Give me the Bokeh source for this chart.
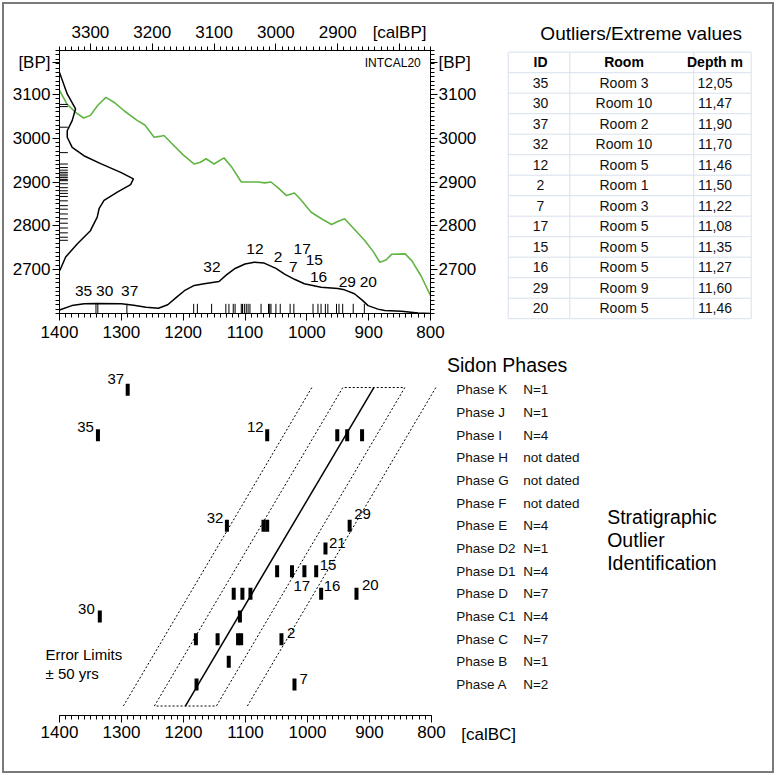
from bokeh.plotting import figure
from bokeh.models import Range1d, LinearAxis, FixedTicker, ColumnDataSource
from bokeh.layouts import column, row
from bokeh.embed import file_html
from bokeh.resources import INLINE
from bokeh.core.properties import value

FONT = "Liberation Sans"

# ---------------- data ----------------
calbc_ticks = [1400, 1300, 1200, 1100, 1000, 900, 800]
calbp_ticks = [3300, 3200, 3100, 3000, 2900, 2800]
bp_ticks = [2700, 2800, 2900, 3000, 3100]
bp_unit_tick = 3172.6          # where the "[BP]" unit label sits on the BP axes

# IntCal20 calibration curve (calBC, BP)
intcal_bc = [1400, 1388, 1374, 1361, 1350, 1338, 1325, 1312, 1295, 1274, 1262, 1247, 1238, 1231,
             1220, 1200, 1182, 1172, 1163, 1150, 1134, 1122, 1106, 1090, 1079, 1068, 1058, 1045,
             1033, 1020, 1010, 993, 975, 960, 950, 939, 925, 906, 892, 882, 872, 863, 841, 830,
             815, 800]
intcal_bp = [3109, 3078, 3059, 3046, 3052, 3075, 3093, 3082, 3062, 3040, 3030, 3002, 3004, 3006,
             2990, 2962, 2941, 2945, 2953, 2941, 2955, 2935, 2900, 2900, 2900, 2898, 2900, 2885,
             2869, 2875, 2860, 2831, 2815, 2803, 2810, 2816, 2795, 2766, 2740, 2717, 2722, 2735,
             2736, 2720, 2685, 2641]

# summed calibrated probability (calBC, BP-scale height)
sum_bc = [1400, 1380, 1360, 1340, 1300, 1280, 1260, 1240, 1225, 1210, 1198, 1182, 1166, 1142,
          1130, 1117, 1100, 1085, 1069, 1050, 1036, 1020, 1004, 977, 950, 939, 923, 910, 901,
          885, 874, 847, 820, 800]
sum_bp = [2608, 2618, 2622, 2623, 2622, 2619, 2614, 2612, 2620, 2638, 2652, 2664, 2668, 2673,
          2688, 2702, 2713, 2717, 2715, 2703, 2690, 2678, 2668, 2660, 2657, 2654, 2645, 2630,
          2618, 2610, 2607, 2605, 2601, 2600]

# radiocarbon (BP) density drawn along the BP axis
bpdens_bc = [1400, 1387.5, 1374, 1379.5, 1387.5, 1387.5, 1379.5, 1360.6, 1333.5, 1301, 1280.5,
             1285, 1306.5, 1328, 1336, 1339, 1350, 1371, 1390, 1399.5]
bpdens_bp = [3150, 3101, 3067, 3040, 3017, 3002, 2979, 2960, 2942, 2922, 2907, 2894, 2877, 2858,
             2839, 2820, 2789, 2759, 2729, 2698]

# individual dates
rug_bc = [1341, 1338, 1291, 1183, 1177, 1154, 1131, 1126, 1119, 1116, 1106, 1104, 1101, 1098,
          1095, 1092, 1074, 1062, 1060, 1058, 1050, 1043, 1027, 1021, 990, 982, 977, 970, 966,
          952, 948, 942, 925, 907]
rug_bp = [3077, 3072, 3025, 2967, 2941, 2933, 2927, 2922, 2918, 2914, 2910, 2906, 2903, 2896,
          2887, 2880, 2874, 2867, 2857, 2846, 2838, 2827, 2816, 2806, 2795, 2784, 2774, 2767]

# outlier labels in upper chart
top_ids = ["35", "30", "37", "32", "12", "2", "17", "7", "15", "16", "29", "20"]
top_ids_bc = [1361, 1327, 1286.5, 1153.5, 1084, 1046.5, 1007.6, 1022, 988, 981, 934.6, 900.6]
top_ids_bp = [2652, 2652, 2652, 2705, 2748, 2730, 2748, 2707, 2723, 2684, 2673, 2673]

# outlier table
table_header = ["ID", "Room", "Depth m"]
table_id = ["35", "30", "37", "32", "12", "2", "7", "17", "15", "16", "29", "20"]
table_room = ["Room 3", "Room 10", "Room 2", "Room 10", "Room 5", "Room 1", "Room 3", "Room 5",
              "Room 5", "Room 5", "Room 9", "Room 5"]
table_depth = [12.05, 11.47, 11.90, 11.70, 11.46, 11.50, 11.22, 11.08, 11.35, 11.27, 11.60, 11.46]

# Sidon phases (bottom -> top)
phases = ["Phase A", "Phase B", "Phase C", "Phase C1", "Phase D", "Phase D1", "Phase D2",
          "Phase E", "Phase F", "Phase G", "Phase H", "Phase I", "Phase J", "Phase K"]
phase_n = ["N=2", "N=1", "N=7", "N=4", "N=7", "N=4", "N=1", "N=4", "not dated", "not dated",
           "not dated", "N=4", "N=1", "N=1"]

marker_phase = ["Phase K",
                "Phase I", "Phase I", "Phase I", "Phase I", "Phase I",
                "Phase E", "Phase E", "Phase E", "Phase E",
                "Phase D2",
                "Phase D1", "Phase D1", "Phase D1", "Phase D1",
                "Phase D", "Phase D", "Phase D", "Phase D", "Phase D",
                "Phase C1", "Phase C1",
                "Phase C", "Phase C", "Phase C", "Phase C", "Phase C",
                "Phase B",
                "Phase A", "Phase A"]
marker_bc = [1290,
             1338, 1065, 952, 936, 912,
             1130, 1071, 1065, 932,
             971,
             1049, 1025, 1005, 986,
             1119, 1105, 1092, 978, 921,
             1335, 1109,
             1180, 1145, 1112, 1107, 1042,
             1127,
             1179, 1021]
marker_id = ["37",
             "35", "12", "", "", "",
             "32", "", "", "29",
             "21",
             "", "17", "", "15",
             "", "", "", "16", "20",
             "30", "",
             "", "", "", "", "2",
             "",
             "", "7"]

# stratigraphic model line (calBC at oldest / youngest phase) and error limits
model_bc = [1197, 893]
error_inner = 50
error_outer = 100

# ---------------- layout helpers ----------------
X_PER_PX = 600 / 372.0       # bottom chart: calBC per pixel
ROW_PX = 22.67               # bottom chart: pixels per phase row


def bc_at(px):
    return 1400 - (px - 59) * X_PER_PX


def row_at(py):
    return (684 - py) / ROW_PX


def style_axis(ax, size="17px", standoff=4):
    ax.major_tick_out = 7
    ax.major_tick_in = 0
    ax.minor_tick_out = 4
    ax.minor_tick_in = 0
    ax.axis_line_color = "black"
    ax.major_tick_line_color = "black"
    ax.minor_tick_line_color = "black"
    ax.major_label_text_font = FONT
    ax.major_label_text_font_size = size
    ax.major_label_text_color = "black"
    ax.major_label_standoff = standoff


def bare(fig):
    fig.grid.visible = False
    fig.outline_line_color = None


COMMON = dict(output_backend="svg", toolbar_location=None, x_axis_location=None,
              y_axis_location=None, frame_align=False)

# ---------------- top chart ----------------
top = figure(width=476, height=344, x_range=Range1d(1400, 800), y_range=Range1d(2600, 3200),
             min_border_left=55, min_border_right=50, min_border_top=46, min_border_bottom=35,
             **COMMON)
top.extra_x_ranges = {"calbp": Range1d(3350, 2750)}
top.grid.visible = False
top.outline_line_color = "black"
top.outline_line_width = 1

ax_b = LinearAxis(ticker=FixedTicker(ticks=calbc_ticks, minor_ticks=list(range(800, 1401, 10))))
style_axis(ax_b, standoff=5)
top.add_layout(ax_b, "below")

ax_t = LinearAxis(x_range_name="calbp",
                  ticker=FixedTicker(ticks=calbp_ticks, minor_ticks=list(range(2750, 3351, 10))))
style_axis(ax_t, standoff=2)
ax_t.major_label_overrides = {2800: "[calBP]"}
top.add_layout(ax_t, "above")

for side_name, so in (("left", 2), ("right", 1)):
    ax = LinearAxis(ticker=FixedTicker(ticks=bp_ticks + [bp_unit_tick],
                                       minor_ticks=list(range(2600, 3201, 10))))
    style_axis(ax, standoff=so)
    ax.major_label_overrides = {bp_unit_tick: "[BP]"}
    top.add_layout(ax, side_name)

top.line(intcal_bc, intcal_bp, line_color="#62b544", line_width=1.6)
top.line(sum_bc, sum_bp, line_color="black", line_width=1.5)
top.line(bpdens_bc, bpdens_bp, line_color="black", line_width=1.5)
top.segment(x0=rug_bc, y0=2600, x1=rug_bc, y1=2622, line_color="black", line_width=1)
top.segment(x0=1400, y0=rug_bp, x1=1386.5, y1=rug_bp, line_color="black", line_width=1)
top.text(x=top_ids_bc, y=top_ids_bp, text=top_ids, text_align="center", text_baseline="middle",
         text_font=value(FONT), text_font_size="15.5px", text_color="black")
top.text(x=[815.7], y=[3172.6], text=["INTCAL20"], text_align="right", text_baseline="middle",
         text_font=value(FONT), text_font_size="12px", text_color="black")

# ---------------- table ----------------
tab = figure(width=292, height=344, x_range=Range1d(480, 772), y_range=Range1d(348, 4),
             min_border_left=0, min_border_right=0, min_border_top=0, min_border_bottom=0,
             **COMMON)
bare(tab)

col_edges = [507.7, 569.3, 693.3, 750.7]
col_text_x = [540, 623.5, 714.5]
t_top = 51.7
row_h = 20.5
n_rows = len(table_id) + 1
h_lines_y = [t_top + row_h * k for k in range(n_rows + 1)]
tab.segment(x0=col_edges[0], x1=col_edges[-1], y0=h_lines_y, y1=h_lines_y,
            line_color="#d8e0ec", line_width=1)
tab.segment(x0=col_edges, x1=col_edges, y0=t_top, y1=h_lines_y[-1],
            line_color="#d8e0ec", line_width=1)
tab.text(x=[640.7], y=[33.3], text=["Outliers/Extreme values"], text_align="center",
         text_baseline="middle", text_font=value(FONT), text_font_size="19px", text_color="black")
tab.text(x=col_text_x, y=[t_top + row_h / 2] * 3, text=table_header, text_align="center",
         text_baseline="middle", text_font=value(FONT), text_font_size="14px",
         text_font_style="bold", text_color="black")
row_cy = [t_top + row_h * (i + 1) + row_h / 2 for i in range(len(table_id))]
depth_txt = [f"{d:.2f}".replace(".", ",") for d in table_depth]
for cx, vals in zip(col_text_x, [table_id, table_room, depth_txt]):
    tab.text(x=[cx] * len(vals), y=row_cy, text=vals, text_align="center",
             text_baseline="middle", text_font=value(FONT), text_font_size="14px",
             text_color="#111111")

# ---------------- bottom chart ----------------
SPLIT = 446
bot = figure(width=SPLIT - 4, height=423,
             x_range=Range1d(bc_at(4), bc_at(SPLIT)),
             y_range=Range1d(row_at(715), row_at(348)),
             min_border_left=0, min_border_right=0, min_border_top=0, min_border_bottom=56,
             **COMMON)
bare(bot)

ax_bb = LinearAxis(ticker=FixedTicker(ticks=calbc_ticks, minor_ticks=list(range(800, 1401, 10))),
                   bounds=(800, 1400))
style_axis(ax_bb, standoff=3)
bot.add_layout(ax_bb, "below")

r0, r1 = -0.95, 13.1
m0, m1 = model_bc
bot.line([m0, m1], [r0, r1], line_color="black", line_width=1.5)
bot.line([m0 + error_inner, m1 + error_inner, m1 - error_inner, m0 - error_inner, m0 + error_inner],
         [r0, r1, r1, r0, r0], line_color="black", line_width=1, line_dash="2 2")
bot.line([m0 + error_outer, m1 + error_outer], [r0, r1], line_color="black", line_width=1,
         line_dash="2 2")
bot.line([m0 - error_outer, m1 - error_outer], [r0, r1], line_color="black", line_width=1,
         line_dash="2 2")

marker_row = [phases.index(ph) for ph in marker_phase]
bot.rect(x=marker_bc, y=marker_row, width=4, height=12, width_units="screen",
         height_units="screen", fill_color="black", line_color=None)

label_layout = {"37": ("right", -3.5, -11), "35": ("right", -4, -8.5), "12": ("right", -3.5, -8.5),
                "32": ("right", -3.5, -7.5), "30": ("right", -5, -7),
                "29": ("left", 4.5, -12), "21": ("left", 3.5, -5.5), "15": ("left", 3.5, -6.5),
                "16": ("left", 2.5, -7.5), "20": ("left", 5.5, -8.5), "2": ("left", 5.5, -6),
                "7": ("left", 5, -6), "17": ("left", 1.5, 14.5)}
lab = {"x": [], "y": [], "t": [], "dx": [], "dy": [], "al": []}
for bc, rw, mid in zip(marker_bc, marker_row, marker_id):
    if mid:
        al, dx, dy = label_layout[mid]
        lab["x"].append(bc); lab["y"].append(rw); lab["t"].append(mid)
        lab["dx"].append(dx); lab["dy"].append(dy); lab["al"].append(al)
src = ColumnDataSource(lab)
bot.text(x="x", y="y", text="t", x_offset="dx", y_offset="dy", text_align="al",
         text_baseline="middle", text_font=value(FONT), text_font_size="15px",
         text_color="black", source=src)
bot.text(x=[bc_at(45)] * 2, y=[row_at(654), row_at(673)], text=["Error Limits", "\u00b1 50 yrs"],
         text_align="left", text_baseline="middle", text_font=value(FONT), text_font_size="15px",
         text_color="black")

# ---------------- phase legend panel (same row scale as bottom chart) ----------------
side = figure(width=772 - SPLIT, height=423,
              x_range=Range1d(SPLIT, 772), y_range=Range1d(row_at(771), row_at(348)),
              min_border_left=0, min_border_right=0, min_border_top=0, min_border_bottom=0,
              **COMMON)
bare(side)
rows_idx = list(range(len(phases)))
side.text(x=[455.7] * len(phases), y=rows_idx, text=phases, text_align="left",
          text_baseline="middle", text_font=value(FONT), text_font_size="13.5px",
          text_color="#111111")
side.text(x=[522.7] * len(phases), y=rows_idx, text=phase_n, text_align="left",
          text_baseline="middle", text_font=value(FONT), text_font_size="13.5px",
          text_color="#111111")
side.text(x=[SPLIT + 0.5], y=[row_at(364)], text=["Sidon Phases"], text_align="left",
          text_baseline="middle", text_font=value(FONT), text_font_size="19.5px",
          text_color="black")
side.text(x=[606.7] * 3, y=[row_at(516.7), row_at(539.5), row_at(562)],
          text=["Stratigraphic", "Outlier", "Identification"], text_align="left",
          text_baseline="middle", text_font=value(FONT), text_font_size="19.5px",
          text_color="black")
side.text(x=[460.7], y=[row_at(734)], text=["[calBC]"], text_align="left",
          text_baseline="middle", text_font=value(FONT), text_font_size="17px",
          text_color="black")

layout = column(row(top, tab), row(bot, side),
                styles={"position": "absolute", "left": "4px", "top": "4px",
                        "outline": "2px solid #7a7a7a"})

open("out.html", "w").write(file_html(layout, INLINE))
